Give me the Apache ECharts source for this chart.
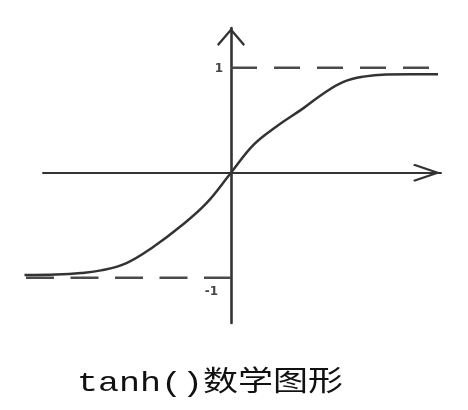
<!DOCTYPE html>
<html>
<head>
<meta charset="utf-8">
<script src="https://cdn.jsdelivr.net/npm/echarts@6/dist/echarts.min.js"></script>
<style>
html,body{margin:0;padding:0;background:#fff;}
#chart{width:468px;height:410px;}
</style>
</head>
<body>
<div id="chart"></div>
<script>
// tanh curve (x in arbitrary units, y in function units)
const curveX = [-4.13, -3.5, -3.0, -2.6, -2.09, -1.55, -1.02, -0.49, 0, 0.45, 0.91, 1.45, 1.85, 2.25, 2.65, 3.1, 3.6, 4.14];
const curveY = [-0.975, -0.97, -0.955, -0.93, -0.86, -0.705, -0.515, -0.29, 0, 0.265, 0.44, 0.615, 0.755, 0.865, 0.915, 0.935, 0.937, 0.937];
// asymptote reference lines
const upperX = [0, 3.98];
const upperY = [1, 1];
const lowerX = [-4.1, 0];
const lowerY = [-1, -1];
// tick labels on the vertical axis
const tickValues = [1, -1];
const tickLabels = ['1', '-1'];
const titleText = 'tanh()数学图形';

const zip = (xs, ys) => xs.map((x, i) => [x, ys[i]]);
const ink = '#333';

const arrowUpWide = 'path://M14 0 L28 16.2 L26.4 18 L14 3.4 L1.6 18 L0 16.2 Z';
const arrowUpNarrow = 'path://M9 0 L18 26.5 L16.3 28 L9 6.7 L1.7 28 L0 26.5 Z';

const yMin = -1.431, yMax = 1.378;
const hidden = {axisLine: {show: false}, axisTick: {show: false}, axisLabel: {show: false}, splitLine: {show: false}};

const chart = echarts.init(document.getElementById('chart'), null, {renderer: 'canvas'});
chart.setOption({
  animation: false,
  backgroundColor: '#fff',
  grid: [
    {left: 24, right: 27, top: 28, bottom: 87, containLabel: false},
    {left: 43, right: 27, top: 28, bottom: 87, containLabel: false}
  ],
  xAxis: [
    Object.assign({type: 'value', gridIndex: 0, min: -4.14, max: 4.2}, hidden),
    {
      type: 'value', gridIndex: 1, min: -3.76, max: 4.2,
      axisLine: {onZero: true, lineStyle: {color: ink, width: 2},
        symbol: ['none', arrowUpNarrow], symbolSize: [18, 28], symbolOffset: [0, -14]},
      axisTick: {show: false}, axisLabel: {show: false}, splitLine: {show: false}
    }
  ],
  yAxis: [
    Object.assign({type: 'value', gridIndex: 0, min: yMin, max: yMax}, hidden),
    {
      type: 'value', gridIndex: 1, min: yMin, max: yMax, position: 'left', offset: -188,
      axisLine: {onZero: false, lineStyle: {color: ink, width: 2.6},
        symbol: ['none', arrowUpWide], symbolSize: [28, 18], symbolOffset: [0, -9]},
      axisTick: {show: false}, splitLine: {show: false},
      axisLabel: {
        show: true, customValues: tickValues, margin: 8,
        color: '#444', fontSize: 12, fontWeight: 'bold', fontFamily: 'DejaVu Sans',
        formatter: function (v) {
          const i = tickValues.indexOf(v);
          if (i < 0) return '';
          return v > 0 ? '{a|' + tickLabels[i] + '}' : '{b|' + tickLabels[i] + '}';
        },
        rich: {
          a: {color: '#444', fontSize: 12, fontWeight: 'bold', fontFamily: 'DejaVu Sans', padding: [2, 0, 0, 0]},
          b: {color: '#444', fontSize: 12, fontWeight: 'bold', fontFamily: 'DejaVu Sans', padding: [29, 5, 0, 0]}
        }
      }
    }
  ],
  series: [
    {type: 'line', xAxisIndex: 0, yAxisIndex: 0, data: zip(upperX, upperY), showSymbol: false, clip: false, silent: true,
     lineStyle: {color: '#4a4a4a', width: 2.5, type: [26, 17]}},
    {type: 'line', xAxisIndex: 0, yAxisIndex: 0, data: zip(lowerX, lowerY), showSymbol: false, clip: false, silent: true,
     lineStyle: {color: '#4a4a4a', width: 2.5, type: [28, 16.5]}},
    {type: 'line', xAxisIndex: 0, yAxisIndex: 0, data: zip(curveX, curveY), showSymbol: false, clip: false, silent: true,
     smooth: 0.4, lineStyle: {color: ink, width: 2.5}}
  ],
  graphic: [{
    type: 'text', x: 77, y: 384, scaleX: 1.25,
    style: {text: titleText, fill: '#111', font: '28px "Liberation Mono", "Noto Sans CJK SC"',
      textAlign: 'left', textVerticalAlign: 'middle'}
  }]
});
</script>
</body>
</html>
